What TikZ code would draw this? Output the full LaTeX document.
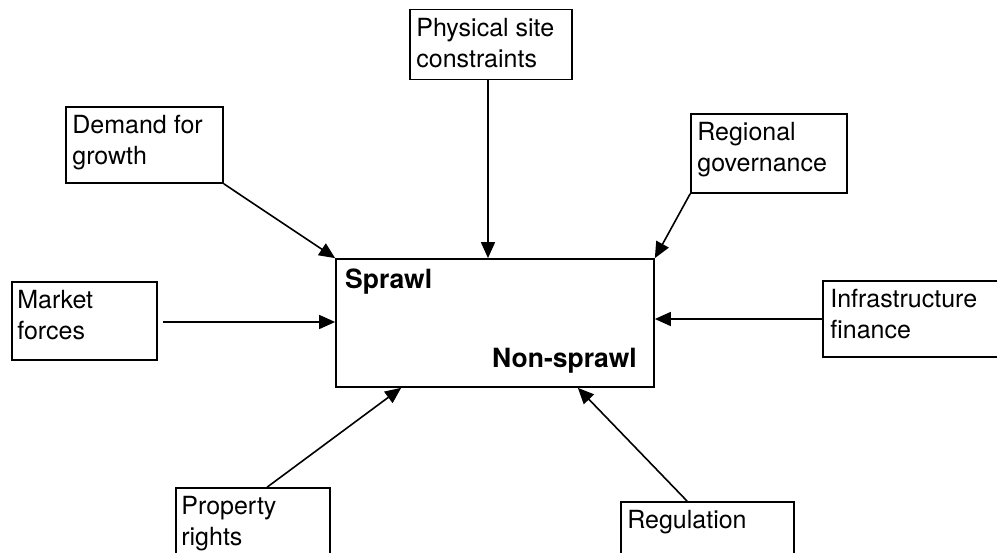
\documentclass[tikz,border=0pt]{standalone}
\usepackage{fontspec}
\setmainfont{TeX Gyre Heros}
\usetikzlibrary{arrows.meta}
\tikzset{
  box/.style={draw, line width=1.7pt, rectangle, inner sep=0pt},
  lbl/.style={anchor=north west, inner sep=0pt, align=left, font=\fontsize{25}{31}\selectfont},
  big/.style={inner sep=0pt, font=\fontsize{26.5}{30}\selectfont\bfseries},
  arr/.style={line width=1.6pt, -{Triangle[length=16pt, width=14pt]}}
}
\begin{document}
\begin{tikzpicture}[x=1pt, y=-1pt]
\useasboundingbox (0,0) rectangle (997,553);
\clip (0,0) rectangle (997,553);
\fill[white] (0,0) rectangle (997,553);

% central box
\node[box, minimum width=318pt, minimum height=128pt] (c) at (495,323) {};
\node[big, anchor=base west] (spr) at (345,289) {Sprawl};
\node[big, anchor=base east] (nspr) at (637,368) {Non-sprawl};

% surrounding boxes
\node[box, minimum width=162pt, minimum height=70pt] (phys) at (491,44.5) {};
\node[lbl] (physT) at ([shift={(7,9)}]phys.north west) {Physical site\\constraints};

\node[box, minimum width=157pt, minimum height=76pt] (dem) at (144.5,145) {};
\node[lbl] (demT) at ([shift={(7,9)}]dem.north west) {Demand for\\growth};

\node[box, minimum width=156pt, minimum height=79pt] (reg) at (769,153.5) {};
\node[lbl] (regT) at ([shift={(7,9)}]reg.north west) {Regional\\governance};

\node[box, minimum width=145pt, minimum height=78pt] (mkt) at (84.5,321) {};
\node[lbl] (mktT) at ([shift={(6,9)}]mkt.north west) {Market\\forces};

\node[box, minimum width=200pt, minimum height=76pt] (inf) at (923,319) {};
\node[lbl] (infT) at ([shift={(8,9)}]inf.north west) {Infrastructure\\finance};

\node[box, minimum width=154pt, minimum height=100pt] (prop) at (253,538) {};
\node[lbl] (propT) at ([shift={(6,9)}]prop.north west) {Property\\rights};

\node[box, minimum width=173pt, minimum height=100pt] (regu) at (707.5,552) {};
\node[lbl] (reguT) at ([shift={(7,9)}]regu.north west) {Regulation};

% connectors
\coordinate (mktS) at (163,322);
\coordinate (physX) at (488,0);
\draw[arr] (phys.south -| physX) -- (c.north -| physX);
\draw[arr] (dem.south east) -- (c.north west);
\draw[arr] (reg.south west) -- (c.north east);
\draw[arr] (mktS) -- (c.west |- mktS);
\draw[arr] (inf.west) -- (c.east |- inf.west);
\draw[arr] ([xshift=92pt]prop.north west) -- ([xshift=66pt]c.south west);
\draw[arr] ([xshift=67pt]regu.north west) -- ([xshift=-77pt]c.south east);
\end{tikzpicture}
\end{document}
